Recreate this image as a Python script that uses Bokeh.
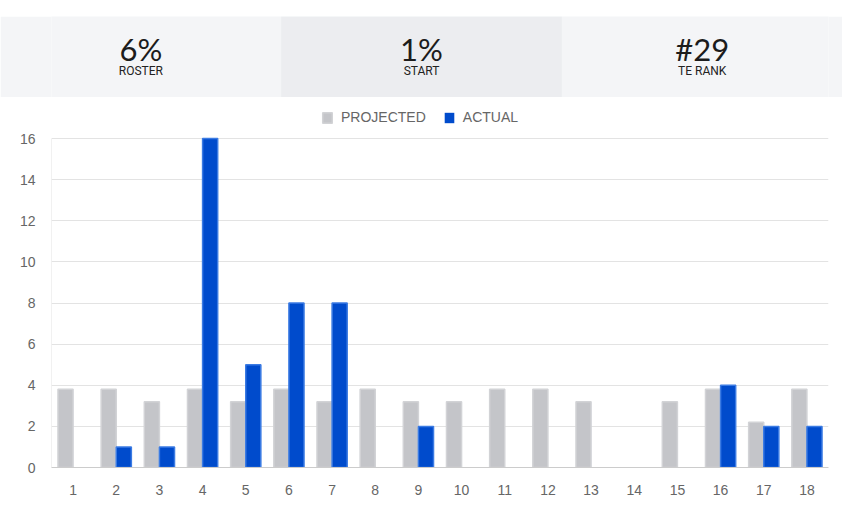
from bokeh.plotting import figure
from bokeh.models import (ColumnDataSource, FactorRange, Range1d, Legend, LegendItem,
                          FixedTicker, Spacer)
from bokeh.layouts import column
from bokeh.transform import dodge
from bokeh.core.properties import value
from bokeh.embed import file_html
from bokeh.resources import INLINE

# ---- data ----
weeks = [str(i) for i in range(1, 19)]
projected = [3.8, 3.8, 3.2, 3.8, 3.2, 3.8, 3.2, 3.8, 3.2, 3.2, 3.8, 3.8, 3.2, 0, 3.2, 3.8, 2.2, 3.8]
actual = [0, 1, 1, 16, 5, 8, 8, 0, 2, 0, 0, 0, 0, 0, 0, 4, 2, 2]
stat_values = ["6%", "1%", "#29"]
stat_labels = ["ROSTER", "START", "TE RANK"]
y_ticks = [0, 2, 4, 6, 8, 10, 12, 14, 16]
y_max = 16

W = 842
BL, BR = 51, 14

# ---- top strip (page coordinates) ----
top = figure(width=W, height=81, x_range=Range1d(BL, W - BR), y_range=Range1d(97, 16),
             output_backend="svg", toolbar_location=None,
             min_border_left=BL, min_border_right=BR, min_border_top=0, min_border_bottom=0,
             border_fill_color="#f4f5f7", background_fill_color="#f4f5f7")
top.axis.visible = False
top.grid.visible = False
top.outline_line_color = None
third = W / 3.0
centers = [third * (i + 0.5) for i in range(3)]
top.quad(left=[third], right=[2 * third], top=[16], bottom=[97],
         fill_color="#ecedf0", line_color=None)
top.text(x=centers, y=[48] * 3, text=stat_values, text_font=value("Lato"),
         text_font_size="31px", text_color="#1c1c1c", text_align="center",
         text_baseline="alphabetic")
top.text(x=centers, y=[70] * 3, text=stat_labels, text_font=value("Roboto"),
         text_font_size="12px", text_color="#222222", text_align="center",
         text_baseline="alphabetic")

# ---- bar chart ----
# frame spans page y 105..467; value 16 sits at page y 138
px_per_unit = (467 - 138) / y_max
y_top = (467 - 105) / px_per_unit
src = ColumnDataSource(dict(
    week=weeks, projected=projected, actual=actual,
    p_alpha=[1.0 if v > 0 else 0.0 for v in projected],
    a_alpha=[1.0 if v > 0 else 0.0 for v in actual],
))
p = figure(width=W, height=424, x_range=FactorRange(*weeks, range_padding=0),
           y_range=Range1d(0, y_top), output_backend="svg", toolbar_location=None,
           min_border_left=BL, min_border_right=BR, min_border_top=8, min_border_bottom=54)
r1 = p.vbar(x=dodge("week", -0.175, range=p.x_range), top="projected", width=0.35,
            source=src, fill_color="#c4c5c9", line_color="#d2d3d6", line_width=1.5,
            line_alpha="p_alpha")
r2 = p.vbar(x=dodge("week", 0.175, range=p.x_range), top="actual", width=0.35,
            source=src, fill_color="#004bcc", line_color="#3b7be3", line_width=1.5,
            line_alpha="a_alpha")

# light vertical axis line from 0 to 16 at the left edge of the first week
edge = ColumnDataSource(dict(wk=[weeks[0]], y0=[0], y1=[y_max]))
p.segment(x0=dodge("wk", -0.5, range=p.x_range), x1=dodge("wk", -0.5, range=p.x_range),
          y0="y0", y1="y1", source=edge, line_color="#e3e3e3", line_width=1)

p.outline_line_color = None
p.xgrid.grid_line_color = None
p.ygrid.grid_line_color = "#e3e3e3"
p.ygrid.grid_line_width = 1
p.yaxis.ticker = FixedTicker(ticks=y_ticks)
p.yaxis.axis_line_color = None
p.xaxis.axis_line_color = "#cccccc"
p.axis.major_tick_line_color = None
p.axis.minor_tick_line_color = None
p.axis.major_label_text_color = "#666666"
p.axis.major_label_text_font = "Liberation Sans"
p.axis.major_label_text_font_size = "14px"
p.yaxis.major_label_standoff = 10
p.xaxis.major_label_standoff = 11

legend = Legend(items=[LegendItem(label="PROJECTED", renderers=[r1]),
                       LegendItem(label="ACTUAL", renderers=[r2])],
                orientation="horizontal", location=(270, 342),
                label_text_font="Liberation Sans", label_text_font_size="14px",
                label_text_color="#666666", glyph_width=12, glyph_height=13,
                label_standoff=8, spacing=17, padding=0, margin=0,
                border_line_color=None, background_fill_alpha=0)
p.add_layout(legend, "center")

layout = column(Spacer(width=W, height=16), top, p, spacing=0)
open("out.html", "w").write(file_html(layout, INLINE))
